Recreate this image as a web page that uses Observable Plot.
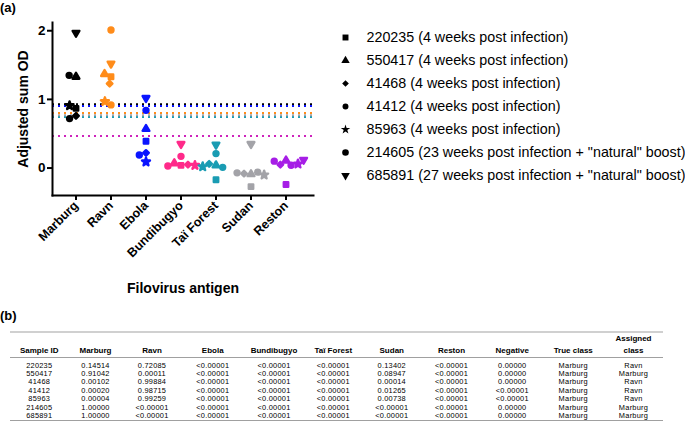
<!DOCTYPE html>
<html>
<head>
<meta charset="utf-8">
<script src="https://cdn.jsdelivr.net/npm/d3@7"></script>
<script src="https://cdn.jsdelivr.net/npm/@observablehq/plot@0.6"></script>
<style>
  html, body { margin: 0; padding: 0; background: #fff; }
  #root { position: relative; width: 685px; height: 438px; overflow: hidden; font-family: "Liberation Sans", Arial, Helvetica, sans-serif; }
  .panel { position: absolute; font-weight: bold; font-size: 13px; }
  #chart, #dots { position: absolute; left: 0; top: 0; }
  #legend { position: absolute; left: 330px; top: 0; }
  table { position: absolute; left: 10px; top: 331px; width: 653px; border-collapse: collapse; table-layout: fixed; font-size: 7.4px; letter-spacing: 0.25px; color: #000; }
  th { font-weight: bold; font-size: 8px; letter-spacing: 0; vertical-align: bottom; height: 22px; line-height: 12px; padding: 0; text-align: center; border-top: 2px solid #d0d0d0; border-bottom: 1px solid #a0a0a0; }
  td { height: 8.4px; line-height: 8.4px; padding: 0; text-align: center; white-space: nowrap; }
  tbody tr:first-child td { padding-top: 3.5px; }
  tbody tr:last-child td { border-bottom: 1px solid #a0a0a0; }
</style>
</head>
<body>
<div id="root">
  <div class="panel" style="left:0;top:0;">(a)</div>
  <div id="chart"></div>
  <div id="dots"></div>
  <div id="legend"></div>
  <div class="panel" style="left:0;top:308px;">(b)</div>
  <table id="tbl"></table>
</div>
<script>
// ---------- data ----------
const antigens = ["Marburg", "Ravn", "Ebola", "Bundibugyo", "Taï Forest", "Sudan", "Reston"];
const antigenColors = ["#000000", "#ff8c1a", "#0a14ff", "#ff2a8a", "#1a9cb3", "#a3a3a8", "#a61ee6"];
const samples = ["220235", "550417", "41468", "41412", "85963", "214605", "685891"];
const sampleLabels = [
  "220235 (4 weeks post infection)",
  "550417 (4 weeks post infection)",
  "41468 (4 weeks post infection)",
  "41412 (4 weeks post infection)",
  "85963 (4 weeks post infection)",
  "214605 (23 weeks post infection + \"natural\" boost)",
  "685891 (27 weeks post infection + \"natural\" boost)"
];
// adjusted sum OD, values in sample order
const marburgOD    = [0.87, 1.33, 0.76, 0.72, 0.91, 1.35, 1.97];
const ravnOD       = [1.33, 1.37, 1.23, 0.92, 0.97, 2.01, 1.52];
const ebolaOD      = [0.39, 0.57, 0.22, 0.19, 0.09, 0.84, 1.02];
const bundibugyoOD = [0.04, 0.07, 0.05, 0.03, 0.04, 0.17, 0.35];
const taiForestOD  = [-0.17, 0.04, 0.06, 0.01, 0.02, 0.21, 0.34];
const sudanOD      = [-0.27, -0.09, -0.08, -0.06, -0.10, -0.07, 0.35];
const restonOD     = [-0.24, 0.11, 0.05, 0.04, 0.06, 0.10, 0.12];
// cut-off per antigen (dotted lines)
const cutoffs = [0.93, 0.80, 0.905, 0.465, 0.745, 0.768, 0.465];
const yTicks = [0, 1, 2];

const tableHeader = ["Sample ID", "Marburg", "Ravn", "Ebola", "Bundibugyo", "Taï Forest", "Sudan", "Reston", "Negative", "True class", "Assigned class"];
const tableRows = [
  ["220235", "0.14514", "0.72085", "<0.00001", "<0.00001", "<0.00001", "0.13402", "<0.00001", "0.00000", "Marburg", "Ravn"],
  ["550417", "0.91042", "0.00011", "<0.00001", "<0.00001", "<0.00001", "0.08947", "<0.00001", "0.00000", "Marburg", "Marburg"],
  ["41468", "0.00102", "0.99884", "<0.00001", "<0.00001", "<0.00001", "0.00014", "<0.00001", "0.00000", "Marburg", "Ravn"],
  ["41412", "0.00020", "0.98715", "<0.00001", "<0.00001", "<0.00001", "0.01265", "<0.00001", "<0.00001", "Marburg", "Ravn"],
  ["85963", "0.00004", "0.99259", "<0.00001", "<0.00001", "<0.00001", "0.00738", "<0.00001", "<0.00001", "Marburg", "Ravn"],
  ["214605", "1.00000", "<0.00001", "<0.00001", "<0.00001", "<0.00001", "<0.00001", "<0.00001", "0.00000", "Marburg", "Marburg"],
  ["685891", "1.00000", "<0.00001", "<0.00001", "<0.00001", "<0.00001", "<0.00001", "<0.00001", "0.00000", "Marburg", "Marburg"]
];

// ---------- build tables ----------
const odByAntigen = [marburgOD, ravnOD, ebolaOD, bundibugyoOD, taiForestOD, sudanOD, restonOD];
const points = antigens.flatMap((a, i) => samples.map((s, j) => ({antigen: a, sample: s, value: odByAntigen[i][j]})));
const cutoffRows = antigens.map((a, i) => ({antigen: a, value: cutoffs[i]}));

const downTriangle = {
  draw(context, size) {
    const y = -Math.sqrt(size / (Math.sqrt(3) * 3));
    context.moveTo(0, -y * 2);
    context.lineTo(-Math.sqrt(3) * y, y);
    context.lineTo(Math.sqrt(3) * y, y);
    context.closePath();
  }
};
const symbolRange = [d3.symbolSquare, d3.symbolTriangle, d3.symbolDiamond2, d3.symbolCircle, d3.symbolStar, d3.symbolCircle, downTriangle];

const W = 330, H = 300, ML = 52, MR = 17, MT = 22, MB = 105;
const yDomain = [-0.4, 2.12];
const band = {domain: antigens, paddingInner: 0, paddingOuter: 0.164, align: 0.36};
const baseStyle = {fontFamily: "Liberation Sans, Arial, Helvetica, sans-serif", fontSize: "13px", color: "#000", background: "transparent"};

// background layer: axes, frame lines, cut-off lines
const chart = Plot.plot({
  width: W, height: H, marginLeft: ML, marginRight: MR, marginTop: MT, marginBottom: MB,
  style: baseStyle,
  x: {type: "band", ...band},
  y: {domain: yDomain},
  color: {domain: antigens, range: antigenColors},
  marks: [
    Plot.ruleY(cutoffRows.filter(d => d.antigen !== "Reston"), {y: "value", stroke: "antigen", strokeWidth: 2, strokeDasharray: "2,4"}),
    Plot.ruleY(cutoffRows.filter(d => d.antigen === "Reston"), {y: "value", stroke: "antigen", strokeWidth: 2, strokeDasharray: "2,4", strokeOpacity: 0.55}),
    Plot.frame({anchor: "left", strokeWidth: 2}),
    Plot.frame({anchor: "bottom", strokeWidth: 2}),
    Plot.axisY({ticks: yTicks, tickFormat: d3.format("d"), tickSize: 5, tickPadding: 2, strokeWidth: 2, fontWeight: "bold", fontSize: 13.5,
      label: "Adjusted sum OD", labelAnchor: "center", labelOffset: 34, labelArrow: "none"}),
    Plot.axisX({tickRotate: -45, tickSize: 5, tickPadding: 3, strokeWidth: 2, fontWeight: "bold", fontSize: 12.5,
      label: "Filovirus antigen", labelAnchor: "center", labelOffset: 97, labelArrow: "none"})
  ]
});
chart.querySelectorAll("[aria-label='y-axis label'] text, [aria-label='x-axis label'] text").forEach(t => {
  t.setAttribute("font-weight", "bold");
  t.setAttribute("font-size", "14");
});
document.getElementById("chart").appendChild(chart);

// foreground layer: dots, faceted by antigen and dodged (partly overlapping) around each facet centre
const dots = Plot.plot({
  width: W, height: H, marginLeft: ML, marginRight: MR, marginTop: MT, marginBottom: MB,
  style: baseStyle,
  fx: {...band, axis: null},
  y: {domain: yDomain, axis: null},
  color: {domain: antigens, range: antigenColors},
  symbol: {domain: samples, range: symbolRange},
  marks: [
    Plot.dot(points, Plot.dodgeX({anchor: "middle", padding: 2}, {fx: "antigen", y: "value", symbol: "sample", fill: "antigen",
      stroke: "antigen", strokeWidth: 2.4, strokeLinejoin: "round", r: 2.5}))
  ]
});
document.getElementById("dots").appendChild(dots);

// ---------- legend ----------
const legendRows = samples.map((s, i) => ({sample: s, label: sampleLabels[i]}));
const legendR = [3.8, 3.3, 3.1, 3.0, 3.0, 3.7, 3.5];
const legend = Plot.plot({
  width: 355, height: 200, marginLeft: 0, marginRight: 0, marginTop: 23, marginBottom: 11,
  style: {...baseStyle, fontSize: "14.3px"},
  y: {domain: samples, axis: null},
  symbol: {domain: samples, range: symbolRange},
  marks: [
    Plot.dot(legendRows, {y: "sample", symbol: "sample", fill: "#000", r: (d, i) => legendR[i], frameAnchor: "left", dx: 15}),
    Plot.text(legendRows, {y: "sample", text: "label", frameAnchor: "left", dx: 36, textAnchor: "start", fill: "#000", fontSize: 14.3})
  ]
});
document.getElementById("legend").appendChild(legend);

// ---------- table ----------
const colWidths = [58.5, 54, 59, 62.5, 60, 58.5, 58.5, 61, 60.5, 61.5, 59];
const tbl = document.getElementById("tbl");
const colgroup = document.createElement("colgroup");
colWidths.forEach(w => { const c = document.createElement("col"); c.style.width = w + "px"; colgroup.appendChild(c); });
tbl.appendChild(colgroup);
const thead = document.createElement("thead");
const hr = document.createElement("tr");
tableHeader.forEach(h => {
  const th = document.createElement("th");
  if (h === "Assigned class") { th.innerHTML = "Assigned<br>class"; } else { th.textContent = h; }
  hr.appendChild(th);
});
thead.appendChild(hr);
tbl.appendChild(thead);
const tbody = document.createElement("tbody");
tableRows.forEach(r => {
  const tr = document.createElement("tr");
  r.forEach(v => { const td = document.createElement("td"); td.textContent = v; tr.appendChild(td); });
  tbody.appendChild(tr);
});
tbl.appendChild(tbody);
</script>
</body>
</html>
